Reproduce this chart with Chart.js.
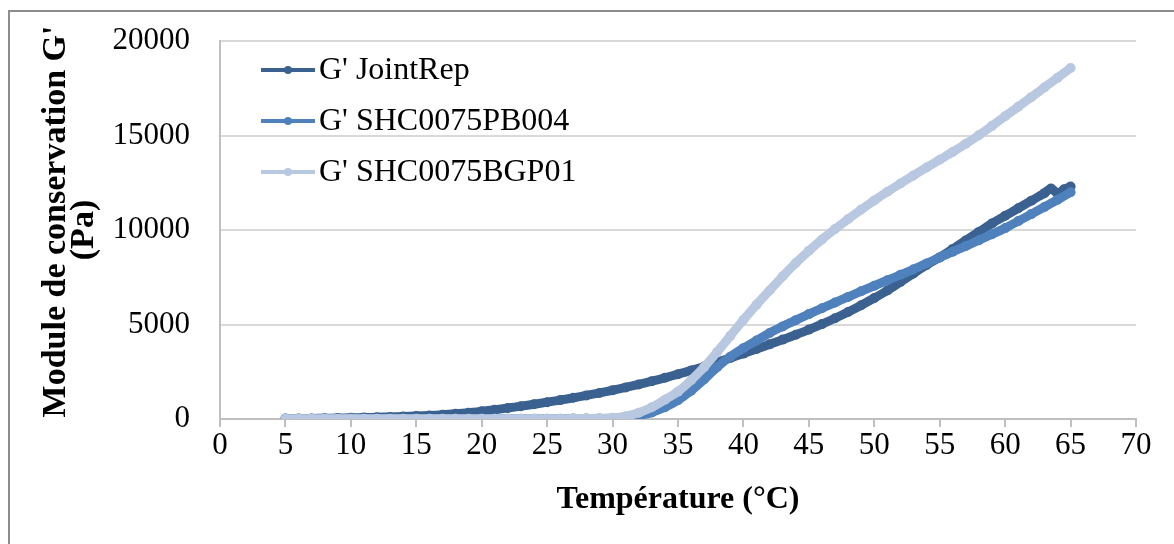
<!DOCTYPE html>
<html>
<head>
<meta charset="utf-8">
<script src="https://cdn.jsdelivr.net/npm/chart.js@4.4.0/dist/chart.umd.min.js"></script>
<style>
  html, body { margin: 0; padding: 0; background: #fff; }
  #wrap { width: 1174px; height: 544px; }
</style>
</head>
<body>
<div id="wrap"><canvas id="gmod-chart" width="1174" height="544"></canvas></div>
<script>
// temperature (°C) and storage modulus G' (Pa)
const temps = [5, 6, 7, 8, 9, 10, 11, 12, 13, 14, 15, 16, 17, 18, 19, 20, 21, 22, 23, 24, 25,
  26, 27, 28, 29, 30, 31, 32, 33, 34, 35, 36, 37, 38, 39, 40, 41, 42, 43, 44, 45,
  46, 47, 48, 49, 50, 51, 52, 53, 54, 55, 56, 57, 58, 59, 60, 61, 62, 63, 64, 65];

const jointTemps = [5, 6, 7, 8, 9, 10, 11, 12, 13, 14, 15, 16, 17, 18, 19, 20, 21, 22, 23, 24, 25,
  26, 27, 28, 29, 30, 31, 32, 33, 34, 35, 36, 37, 38, 39, 40, 41, 42, 43, 44, 45,
  46, 47, 48, 49, 50, 51, 52, 53, 54, 55, 56, 57, 58, 59, 60, 61, 62, 63, 63.5, 64, 64.5, 65];
const jointRep = [20, 25, 30, 40, 50, 60, 75, 90, 110, 130, 155, 185, 225, 275, 335, 410, 490, 580, 680, 780, 890,
  1000, 1120, 1250, 1380, 1520, 1670, 1830, 2000, 2180, 2370, 2570, 2780, 3000, 3230, 3460, 3700, 3950, 4200, 4460, 4730,
  5020, 5330, 5660, 6020, 6400, 6800, 7250, 7700, 8150, 8550, 9000, 9450, 9900, 10350, 10750, 11150, 11550, 11950, 12200, 11950, 12150, 12300];

const pb004 = [10, 10, 10, 10, 10, 10, 10, 10, 10, 10, 10, 10, 10, 10, 10, 10, 10, 10, 10, 10, 15,
  15, 20, 20, 30, 40, 80, 180, 350, 620, 1000, 1500, 2100, 2750, 3300, 3750, 4150, 4550, 4900, 5230, 5550,
  5860, 6160, 6460, 6760, 7050, 7340, 7630, 7920, 8230, 8550, 8850, 9150, 9460, 9780, 10100, 10470, 10840, 11220, 11600, 12000];

const bgp01 = [10, 10, 10, 10, 10, 10, 10, 10, 10, 10, 10, 10, 10, 10, 10, 10, 10, 10, 10, 10, 15,
  15, 20, 25, 35, 60, 150, 330, 620, 1020, 1450, 2050, 2750, 3550, 4400, 5250, 6050, 6800, 7550, 8250, 8900,
  9500, 10050, 10580, 11080, 11560, 12020, 12460, 12890, 13310, 13720, 14130, 14560, 15020, 15510, 16020, 16520, 17030, 17540, 18050, 18570];

const yTicks = [0, 5000, 10000, 15000, 20000];

const seriesNames = ["G' JointRep", "G' SHC0075PB004", "G' SHC0075BGP01"];
const seriesColors = ['#3a6190', '#4f81bd', '#b9c8e1'];

const toPoints = (xs, ys) => xs.map((x, i) => ({ x: x, y: ys[i] }));

// legend drawn inside the plot, line + marker like the original
const insideLegend = {
  id: 'insideLegend',
  afterDraw(chart) {
    const ctx = chart.ctx;
    ctx.save();
    chart.data.datasets.forEach((ds, i) => {
      const y = 70 + i * 51;
      ctx.strokeStyle = ds.borderColor;
      ctx.lineWidth = 4;
      ctx.beginPath();
      ctx.moveTo(261, y);
      ctx.lineTo(315, y);
      ctx.stroke();
      ctx.fillStyle = ds.borderColor;
      ctx.beginPath();
      ctx.arc(288, y, 4, 0, Math.PI * 2);
      ctx.fill();
      ctx.fillStyle = '#000';
      ctx.font = '32px "Liberation Serif"';
      ctx.textBaseline = 'middle';
      ctx.fillText(ds.label, 319, y + 1);
    });
    ctx.restore();
  }
};

const frameBorder = {
  id: 'frameBorder',
  beforeDraw(chart) {
    const ctx = chart.ctx;
    ctx.save();
    ctx.fillStyle = '#fff';
    ctx.fillRect(0, 0, chart.width, chart.height);
    ctx.strokeStyle = '#8c8c8c';
    ctx.lineWidth = 2;
    ctx.beginPath();
    ctx.moveTo(9, 544);
    ctx.lineTo(9, 11);
    ctx.lineTo(1174, 11);
    ctx.stroke();
    ctx.restore();
  }
};

const gmodCtx = document.getElementById('gmod-chart').getContext('2d');

const gmodChart = new Chart(gmodCtx, {
  type: 'scatter',
  data: {
    datasets: [
      { label: seriesNames[0], data: toPoints(jointTemps, jointRep), order: 2 },
      { label: seriesNames[1], data: toPoints(temps, pb004), order: 1 },
      { label: seriesNames[2], data: toPoints(temps, bgp01), order: 0 }
    ].map((ds, i) => Object.assign(ds, {
      showLine: true,
      borderColor: seriesColors[i],
      backgroundColor: seriesColors[i],
      borderWidth: 9,
      borderCapStyle: 'round',
      borderJoinStyle: 'round',
      pointRadius: 5,
      pointBorderWidth: 0,
      tension: 0.3
    }))
  },
  options: {
    responsive: false,
    animation: false,
    layout: { padding: { left: 20, top: 41, right: 38, bottom: 24 } },
    plugins: {
      legend: { display: false },
      tooltip: { enabled: false }
    },
    scales: {
      x: {
        type: 'linear',
        min: 0,
        max: 70,
        ticks: {
          stepSize: 5,
          color: '#000',
          padding: 0,
          font: { family: 'Liberation Serif', size: 31 }
        },
        grid: { drawOnChartArea: false, drawTicks: true, tickLength: 8, color: '#bfbfbf', lineWidth: 2 },
        border: { color: '#bfbfbf', width: 2 },
        title: {
          display: true,
          text: 'Température (°C)',
          color: '#000',
          padding: { top: 0, bottom: 1 },
          font: { family: 'Liberation Serif', size: 32, weight: 'bold' }
        },
        afterFit(scale) { scale.height = 101; }
      },
      y: {
        min: 0,
        max: 20000,
        afterBuildTicks(scale) { scale.ticks = yTicks.map(v => ({ value: v })); },
        ticks: {
          color: '#000',
          padding: 0,
          callback: v => String(v),
          font: { family: 'Liberation Serif', size: 31 }
        },
        // invisible tick marks keep the labels 30px off the axis
        grid: { color: '#d9d9d9', lineWidth: 2, drawTicks: true, tickLength: 30, tickColor: 'rgba(0,0,0,0)' },
        border: { color: '#bfbfbf', width: 2 },
        title: {
          display: true,
          text: ["  Module de conservation G'", '(Pa)'],
          color: '#000',
          padding: { top: 22, bottom: 0 },
          font: { family: 'Liberation Serif', size: 34, weight: 'bold', lineHeight: 0.82 }
        },
        afterFit(scale) { scale.width = 200; }
      }
    }
  },
  plugins: [frameBorder, insideLegend]
});
</script>
</body>
</html>
